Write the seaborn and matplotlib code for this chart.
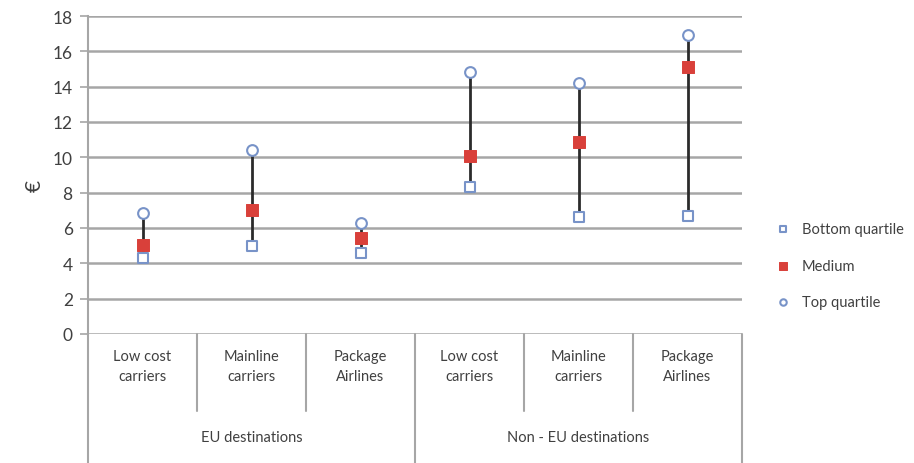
import pandas as pd
import seaborn as sns
import matplotlib.pyplot as plt
import matplotlib.transforms as mtransforms

# values (EUR)
sub_labels = ["Low cost\ncarriers", "Mainline\ncarriers", "Package\nAirlines",
              "Low cost\ncarriers", "Mainline\ncarriers", "Package\nAirlines"]
group_labels = ["EU destinations", "Non - EU destinations"]
bottom_q = [4.3, 5.0, 4.6, 8.3, 6.65, 6.7]
medium = [5.05, 7.0, 5.45, 10.1, 10.85, 15.1]
top_q = [6.85, 10.4, 6.3, 14.85, 14.2, 16.95]

pos = list(range(len(sub_labels)))
df = pd.DataFrame({"x": pos, "bottom": bottom_q, "medium": medium, "top": top_q})

sns.set_style("white")
plt.rcParams['font.family'] = ['Lato', 'DejaVu Sans']
text_col = "#404040"
grid_col = "#a6a6a6"

fig = plt.figure(figsize=(9.14, 4.64), dpi=100)
ax = fig.add_axes([88 / 914, 1 - 335 / 464, 654 / 914, 318 / 464])

# range lines
ax.vlines(df["x"], df["bottom"], df["top"], color="#2b2b2b", lw=2, zorder=3)

sns.scatterplot(data=df, x="x", y="bottom", marker="s", s=60, facecolor="white",
                edgecolor="#7893c8", linewidth=1.5, zorder=4, ax=ax, label="Bottom quartile")
sns.scatterplot(data=df, x="x", y="medium", marker="s", s=75, color="#d9403a",
                edgecolor="#d9403a", zorder=5, ax=ax, label="Medium")
sns.scatterplot(data=df, x="x", y="top", marker="o", s=60, facecolor="white",
                edgecolor="#7893c8", linewidth=1.5, zorder=4, ax=ax, label="Top quartile")

ax.set_xlim(-0.5, len(pos) - 0.5)
ax.set_ylim(0, 18)
ax.set_yticks(range(0, 19, 2))
ax.yaxis.grid(True, color=grid_col, lw=1.8)
ax.set_axisbelow(True)
ax.set_xticks([])
ax.set_xlabel("")
ax.set_ylabel("")
# rotated euro sign as axis title
ax.text(-0.081, 0.47, "€", transform=ax.transAxes, rotation=90, fontsize=15,
        color=text_col, ha="center", va="center")
ax.tick_params(axis="y", labelsize=12.5, labelcolor=text_col, color=grid_col,
               length=6, width=1.2, pad=5, left=True)
for side in ["top", "right", "bottom"]:
    ax.spines[side].set_visible(False)
ax.spines["left"].set_color(grid_col)
ax.spines["left"].set_linewidth(1.5)

# category table below the axes
trans = mtransforms.blended_transform_factory(ax.transData, ax.transAxes)
bottom_edge = -129 / 318
sub_edge = -77 / 318
for b in [-0.5, 0.5, 1.5, 2.5, 3.5, 4.5, 5.5]:
    end = bottom_edge if b in (-0.5, 2.5, 5.5) else sub_edge
    ax.plot([b, b], [0, end], transform=trans, color=grid_col, lw=1.5, clip_on=False)
for x, lab in zip(pos, sub_labels):
    ax.text(x, -0.10, lab, transform=trans, ha="center", va="center",
            fontsize=10.5, color=text_col, linespacing=1.5)
for i, lab in enumerate(group_labels):
    ax.text(1 + 3 * i, -0.325, lab, transform=trans, ha="center", va="center",
            fontsize=10.5, color=text_col)

ax.legend(loc="center left", bbox_to_anchor=(1.02, 0.215), frameon=False,
          fontsize=10.5, labelcolor=text_col, handletextpad=0.3, labelspacing=1.55,
          markerscale=0.6)

plt.savefig("out.png", dpi=100)
plt.close()
